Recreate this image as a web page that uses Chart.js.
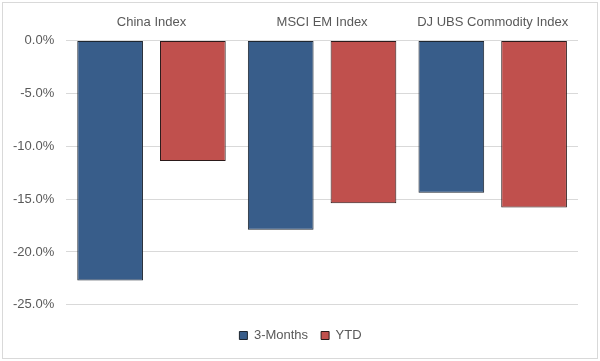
<!DOCTYPE html>
<html>
<head>
<meta charset="utf-8">
<script src="https://cdn.jsdelivr.net/npm/chart.js@4"></script>
<style>
  html, body { margin: 0; padding: 0; background: #fff; }
  #wrap { position: relative; width: 600px; height: 361px; }
  #frame { position: absolute; left: 2px; top: 2px; width: 594px; height: 355px; border: 1px solid #d9d9d9; pointer-events: none; }
  canvas { position: absolute; left: 0; top: 0; }
</style>
</head>
<body>
<div id="wrap">
  <canvas id="chart" width="600" height="361"></canvas>
  <div id="frame"></div>
</div>
<script>
const categories = ['China Index', 'MSCI EM Index', 'DJ UBS Commodity Index'];
const threeMonths = [-22.7, -17.9, -14.4];
const ytd = [-11.4, -15.4, -15.8];

const textColor = '#595959';
const font = { family: '"Liberation Sans", Arial, sans-serif', size: 13 };

const ctx = document.getElementById('chart').getContext('2d');
new Chart(ctx, {
    type: 'bar',
    data: {
        labels: categories,
        datasets: [
            {
                label: '3-Months',
                data: threeMonths,
                backgroundColor: '#385D8A',
                borderColor: '#1e2630',
                borderWidth: 1,
                borderSkipped: false
            },
            {
                label: 'YTD',
                data: ytd,
                backgroundColor: '#C0504D',
                borderColor: '#2b1a1a',
                borderWidth: 1,
                borderSkipped: false
            }
        ]
    },
    options: {
        responsive: false,
        animation: false,
        categoryPercentage: 0.97,
        barPercentage: 0.794,
        layout: { padding: { left: 1, right: 0, top: 13, bottom: 9 } },
        scales: {
            x: {
                position: 'top',
                grid: { display: false },
                border: { display: false },
                ticks: { color: textColor, font: font, padding: 2, maxRotation: 0, minRotation: 0, autoSkip: false }
            },
            y: {
                min: -25,
                max: 0,
                ticks: {
                    stepSize: 5,
                    color: textColor,
                    font: font,
                    padding: 12,
                    callback: v => v.toFixed(1) + '%'
                },
                grid: { color: '#d9d9d9', drawTicks: false },
                border: { display: false }
            },
            // empty right-hand spacer so the legend stays centred on the canvas
            yRight: {
                position: 'right',
                min: -25,
                max: 0,
                grid: { display: false },
                border: { display: false },
                ticks: { display: false },
                afterFit: scale => { scale.width = 22; }
            }
        },
        plugins: {
            legend: {
                position: 'bottom',
                title: { display: true, text: '', font: { size: 1 }, padding: { top: 10, bottom: 0 } },
                labels: {
                    color: textColor,
                    font: font,
                    boxWidth: 8,
                    boxHeight: 8,
                    padding: 13
                }
            },
            tooltip: { enabled: false }
        }
    }
});
</script>
</body>
</html>
